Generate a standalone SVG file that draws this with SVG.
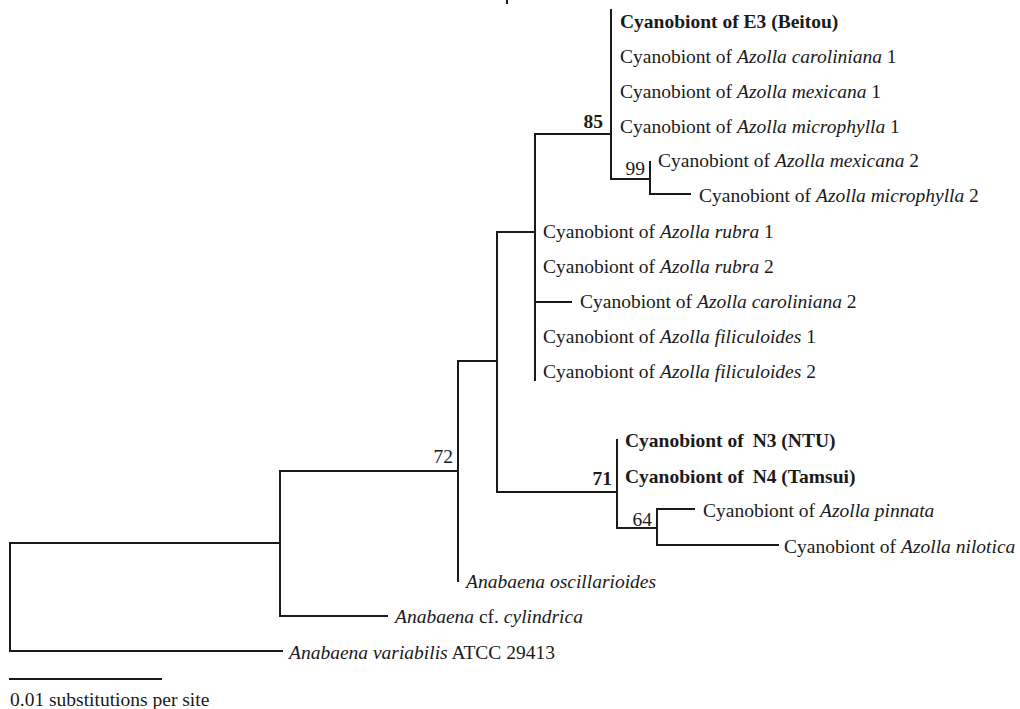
<svg xmlns="http://www.w3.org/2000/svg" width="1020" height="709" viewBox="0 0 1020 709">
<style>
.br{stroke:#1a1a1a;stroke-width:2;fill:none;stroke-linecap:square}
text{font-family:"Liberation Serif","Times New Roman",serif;font-size:19.5px;fill:#1a1a1a}
.b{font-weight:bold}
.i{font-style:italic}
.bs{text-anchor:end}
</style>
<rect width="1020" height="709" fill="#fff"/>
<g id="connectors" class="br">
<path d="M507,0V3"/>
<path d="M10,543H280M10,543V651H282"/>
<path d="M280,471V616H387M280,471H458"/>
<path d="M458,361V581M458,361H497"/>
<path d="M497,232V492H617M497,232H535"/>
<path d="M535,134V380M535,134H611M535,302H571"/>
<path d="M611,10V179H650"/>
<path d="M650,162V194H690"/>
<path d="M617,440V528H657"/>
<path d="M657,509V545H778M657,509H694"/>
<path d="M10,679H161"/>
</g>
<g id="support">
<text class="b bs" x="603" y="128">85</text>
<text class="bs" x="645" y="175">99</text>
<text class="bs" x="453" y="463">72</text>
<text class="b bs" x="612" y="485">71</text>
<text class="bs" x="652" y="526">64</text>
</g>
<g id="leaf-E3"><text class="b" x="620" y="28">Cyanobiont of  E3 (Beitou)</text></g>
<g id="leaf-car1"><text x="620" y="63">Cyanobiont of <tspan class="i">Azolla caroliniana</tspan> 1</text></g>
<g id="leaf-mex1"><text x="620" y="98">Cyanobiont of <tspan class="i">Azolla mexicana</tspan> 1</text></g>
<g id="leaf-mic1"><text x="620" y="133">Cyanobiont of <tspan class="i">Azolla microphylla</tspan> 1</text></g>
<g id="leaf-mex2"><text x="658" y="167">Cyanobiont of <tspan class="i">Azolla mexicana</tspan> 2</text></g>
<g id="leaf-mic2"><text x="699" y="202">Cyanobiont of <tspan class="i">Azolla microphylla</tspan> 2</text></g>
<g id="leaf-rub1"><text x="543" y="238">Cyanobiont of <tspan class="i">Azolla rubra</tspan> 1</text></g>
<g id="leaf-rub2"><text x="543" y="273">Cyanobiont of <tspan class="i">Azolla rubra</tspan> 2</text></g>
<g id="leaf-car2"><text x="580" y="308">Cyanobiont of <tspan class="i">Azolla caroliniana</tspan> 2</text></g>
<g id="leaf-fil1"><text x="543" y="343">Cyanobiont of <tspan class="i">Azolla filiculoides</tspan> 1</text></g>
<g id="leaf-fil2"><text x="543" y="378">Cyanobiont of <tspan class="i">Azolla filiculoides</tspan> 2</text></g>
<g id="leaf-N3"><text class="b" x="625" y="447">Cyanobiont of<tspan dx="9">N3 (NTU)</tspan></text></g>
<g id="leaf-N4"><text class="b" x="625" y="483">Cyanobiont of<tspan dx="9">N4 (Tamsui)</tspan></text></g>
<g id="leaf-pin"><text x="703" y="517">Cyanobiont of <tspan class="i">Azolla pinnata</tspan></text></g>
<g id="leaf-nil"><text x="784" y="553">Cyanobiont of <tspan class="i">Azolla nilotica</tspan></text></g>
<g id="leaf-osc"><text class="i" x="466" y="588">Anabaena oscillarioides</text></g>
<g id="leaf-cyl"><text x="395" y="623"><tspan class="i">Anabaena</tspan> cf. <tspan class="i">cylindrica</tspan></text></g>
<g id="leaf-var"><text x="289" y="659"><tspan class="i">Anabaena variabilis</tspan> ATCC 29413</text></g>
<g id="scale"><text x="10" y="706">0.01 substitutions per site</text></g>
</svg>
